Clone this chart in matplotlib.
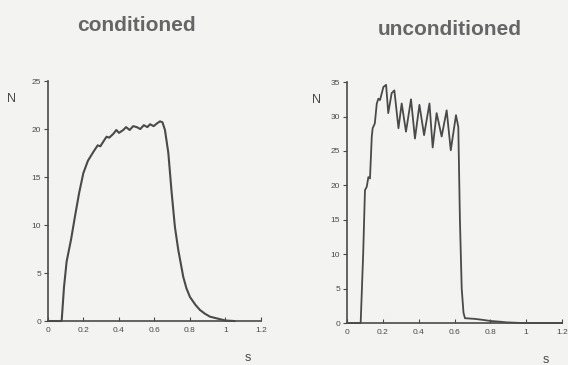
import matplotlib
matplotlib.use("Agg")
import matplotlib.pyplot as plt

# conditioned force trace (s, N)
cond_t = [0.0, 0.077, 0.09, 0.105, 0.13, 0.152, 0.175, 0.199, 0.225, 0.255, 0.28, 0.295, 0.312,
          0.33, 0.345, 0.368, 0.385, 0.40, 0.424, 0.44, 0.46, 0.48, 0.50, 0.52, 0.54, 0.56,
          0.575, 0.595, 0.615, 0.631, 0.645, 0.659, 0.678, 0.697, 0.715, 0.734, 0.762, 0.78, 0.8,
          0.83, 0.856, 0.885, 0.913, 0.978, 1.0, 1.05]
cond_n = [0.0, 0.0, 3.5, 6.2, 8.5, 10.9, 13.3, 15.4, 16.7, 17.6, 18.3, 18.2, 18.7,
          19.2, 19.1, 19.5, 19.9, 19.6, 19.9, 20.2, 19.9, 20.3, 20.2, 20.0, 20.4, 20.2,
          20.5, 20.3, 20.6, 20.8, 20.7, 19.9, 17.5, 13.3, 9.8, 7.4, 4.6, 3.4, 2.5,
          1.7, 1.15, 0.75, 0.45, 0.15, 0.05, 0.0]

# unconditioned force trace (s, N)
unc_t = [0.0, 0.076, 0.09, 0.10, 0.11, 0.119, 0.128, 0.138, 0.143, 0.155, 0.166, 0.175, 0.184,
         0.203, 0.218, 0.23, 0.249, 0.264, 0.287, 0.305, 0.329, 0.357, 0.379, 0.404, 0.43,
         0.46, 0.478, 0.50, 0.528, 0.556, 0.579, 0.608, 0.621, 0.63, 0.64, 0.65, 0.658,
         0.714, 0.76, 0.8, 0.85, 0.89, 0.98, 1.1, 1.2]
unc_n = [0.0, 0.0, 10.0, 19.3, 19.8, 21.2, 21.0, 27.1, 28.3, 29.0, 31.9, 32.6, 32.4,
         34.3, 34.6, 30.5, 33.4, 33.8, 28.3, 31.9, 27.8, 32.5, 26.8, 31.7, 27.3,
         31.9, 25.5, 30.5, 27.1, 30.9, 25.1, 30.2, 28.5, 15.0, 5.0, 1.5, 0.7,
         0.6, 0.45, 0.3, 0.2, 0.1, 0.0, 0.0, 0.0]

x_ticks = [0, 0.2, 0.4, 0.6, 0.8, 1, 1.2]
x_labels = ["0", "0.2", "0.4", "0.6", "0.8", "1", "1.2"]

bg = "#f3f3f1"
ink = "#4a4a4a"
plt.rcParams["font.family"] = ["Liberation Sans", "DejaVu Sans"]

fig = plt.figure(figsize=(5.68, 3.65), dpi=100, facecolor=bg)


def style(ax, ymax, ystep):
    ax.set_facecolor(bg)
    ax.set_xlim(0, 1.2)
    ax.set_ylim(0, ymax)
    ax.set_xticks(x_ticks)
    ax.set_xticklabels(x_labels)
    ax.set_yticks(range(0, ymax + 1, ystep))
    for s in ["top", "right"]:
        ax.spines[s].set_visible(False)
    for s in ["left", "bottom"]:
        ax.spines[s].set_color(ink)
        ax.spines[s].set_linewidth(1.2)
    ax.tick_params(axis="both", colors=ink, labelsize=6, length=3, width=0.8, pad=2)
    ax.tick_params(axis="x", direction="in", pad=4)


ax1 = fig.add_axes([0.0845, 0.1205, 0.375, 0.6575])
ax1.plot(cond_t, cond_n, color=ink, lw=1.5, clip_on=False)
style(ax1, 25, 5)
fig.text(0.241, 0.93, "conditioned", ha="center", va="center", fontsize=15,
         fontweight="bold", color="#666666")
fig.text(0.02, 0.73, "N", ha="center", va="center", fontsize=9, color=ink)
fig.text(0.437, 0.02, "s", ha="center", va="center", fontsize=9, color=ink)

ax2 = fig.add_axes([0.611, 0.115, 0.3785, 0.660])
ax2.plot(unc_t, unc_n, color=ink, lw=1.3, clip_on=False)
style(ax2, 35, 5)
fig.text(0.792, 0.918, "unconditioned", ha="center", va="center", fontsize=15,
         fontweight="bold", color="#666666")
fig.text(0.558, 0.725, "N", ha="center", va="center", fontsize=9, color=ink)
fig.text(0.961, 0.015, "s", ha="center", va="center", fontsize=9, color=ink)

fig.savefig("out.png", dpi=100, facecolor=bg)
